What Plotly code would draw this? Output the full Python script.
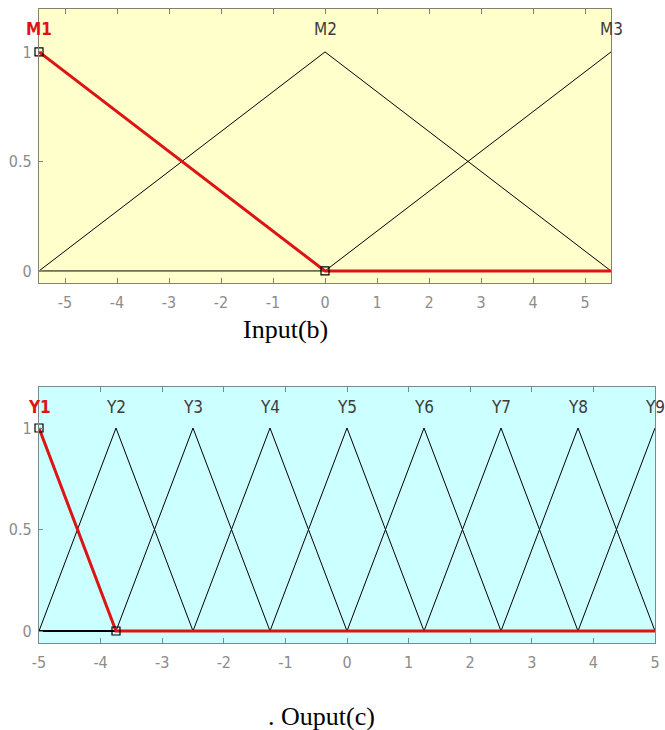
import plotly.graph_objects as go

# Input variable: three membership functions sampled at their breakpoints
input_points = [-5.5, 0, 5.5]
input_names = ["M1", "M2", "M3"]
input_grades = [
    [1, 0, 0],  # M1
    [0, 1, 0],  # M2
    [0, 0, 1],  # M3
]

# Output variable: nine triangular membership functions on a shared grid
output_points = [-5, -3.75, -2.5, -1.25, 0, 1.25, 2.5, 3.75, 5]
output_names = ["Y1", "Y2", "Y3", "Y4", "Y5", "Y6", "Y7", "Y8", "Y9"]
output_grades = [[1 if j == i else 0 for j in range(9)] for i in range(9)]

input_ticks = [-5, -4, -3, -2, -1, 0, 1, 2, 3, 4, 5]
output_ticks = [-5, -4, -3, -2, -1, 0, 1, 2, 3, 4, 5]
grade_ticks = [0, 0.5, 1]
grade_labels = ["0", "0.5", "1"]

selected = 0  # highlighted membership function in each panel

W, H = 665, 730
RED = "rgb(220,20,20)"
FRAME_TOP = "rgb(130,130,112)"
FRAME_BOTTOM = "rgb(118,140,140)"
NARROW = "Liberation Sans Narrow, DejaVu Sans Condensed, Arial Narrow, sans-serif"
TICKFONT = dict(family=NARROW, size=16, color="rgb(140,140,140)")
LABELCOLOR = "rgb(60,60,60)"


def px_to_paper_x(px):
    return px / W


def px_to_paper_y(py):
    return 1 - py / H


fig = go.Figure()


def add_panel(xs, names, grades, xaxis, yaxis):
    for i, g in enumerate(grades):
        if i == selected:
            continue
        fig.add_trace(go.Scatter(x=xs, y=g, mode="lines", xaxis=xaxis, yaxis=yaxis,
                                 line=dict(color="black", width=1), hoverinfo="skip"))
    sel = grades[selected]
    fig.add_trace(go.Scatter(x=xs, y=sel, mode="lines", xaxis=xaxis, yaxis=yaxis,
                             line=dict(color=RED, width=3), hoverinfo="skip"))
    # vertex handles of the selected function
    fig.add_trace(go.Scatter(x=xs[:2], y=sel[:2], mode="markers", xaxis=xaxis, yaxis=yaxis,
                             marker=dict(symbol="square-open", size=8, color="black",
                                         line=dict(width=1.2)),
                             cliponaxis=False, hoverinfo="skip"))
    peaks = [xs[g.index(1)] for g in grades]
    for i, (name, xp) in enumerate(zip(names, peaks)):
        is_sel = i == selected
        fig.add_annotation(x=xp, y=1.105, xref=xaxis, yref=yaxis,
                           text=f"<b>{name}</b>" if is_sel else name,
                           showarrow=False,
                           font=dict(family=NARROW, size=17,
                                     color=RED if is_sel else LABELCOLOR))


add_panel(input_points, input_names, input_grades, "x", "y")
add_panel(output_points, output_names, output_grades, "x2", "y2")


def x_axis(frame):
    return dict(showgrid=False, zeroline=False, showline=True, linecolor=frame, linewidth=1.2,
                mirror="ticks", ticks="inside", ticklen=5, tickcolor=frame, tickfont=TICKFONT,
                automargin=False, ticklabelstandoff=5)


def y_axis(frame):
    return dict(showgrid=False, zeroline=False, showline=True, linecolor=frame, linewidth=1.2,
                mirror=True, ticks="inside", ticklen=4, tickcolor=frame, tickfont=TICKFONT,
                automargin=False, ticklabelstandoff=3)


fig.update_layout(
    width=W, height=H,
    margin=dict(l=0, r=0, t=0, b=0),
    paper_bgcolor="white",
    showlegend=False,
    xaxis=dict(domain=[px_to_paper_x(39), px_to_paper_x(611)], range=[-5.5, 5.5],
               tickvals=input_ticks, ticktext=[str(t) for t in input_ticks],
               anchor="y", **x_axis(FRAME_TOP)),
    yaxis=dict(domain=[px_to_paper_y(283), px_to_paper_y(9)], range=[-0.055, 1.196],
               tickvals=grade_ticks, ticktext=grade_labels, anchor="x", **y_axis(FRAME_TOP)),
    xaxis2=dict(domain=[px_to_paper_x(39), px_to_paper_x(655)], range=[-5, 5],
                tickvals=output_ticks, ticktext=[str(t) for t in output_ticks],
                anchor="y2", **x_axis(FRAME_BOTTOM)),
    yaxis2=dict(domain=[px_to_paper_y(643), px_to_paper_y(387)], range=[-0.059, 1.202],
                tickvals=grade_ticks, ticktext=grade_labels, anchor="x2", **y_axis(FRAME_BOTTOM)),
    plot_bgcolor="rgb(255,255,204)",
)

# per-panel backgrounds
fig.add_shape(type="rect", xref="x2 domain", yref="y2 domain", x0=0, x1=1, y0=0, y1=1,
              fillcolor="rgb(204,255,255)", line=dict(width=0), layer="below")
fig.add_shape(type="rect", xref="x domain", yref="y domain", x0=0, x1=1, y0=0, y1=1,
              fillcolor="rgb(255,255,204)", line=dict(width=0), layer="below")

CAPTION = dict(family="Liberation Serif, Times New Roman, serif", size=26, color="black")
fig.add_annotation(x=px_to_paper_x(285), y=px_to_paper_y(329), xref="paper", yref="paper",
                   xanchor="center", yanchor="middle",
                   text="Input(b)", showarrow=False, font=CAPTION)
fig.add_annotation(x=px_to_paper_x(321), y=px_to_paper_y(716), xref="paper", yref="paper",
                   xanchor="center", yanchor="middle",
                   text=". Ouput(c)", showarrow=False, font=CAPTION)

fig.write_html("out.html")
